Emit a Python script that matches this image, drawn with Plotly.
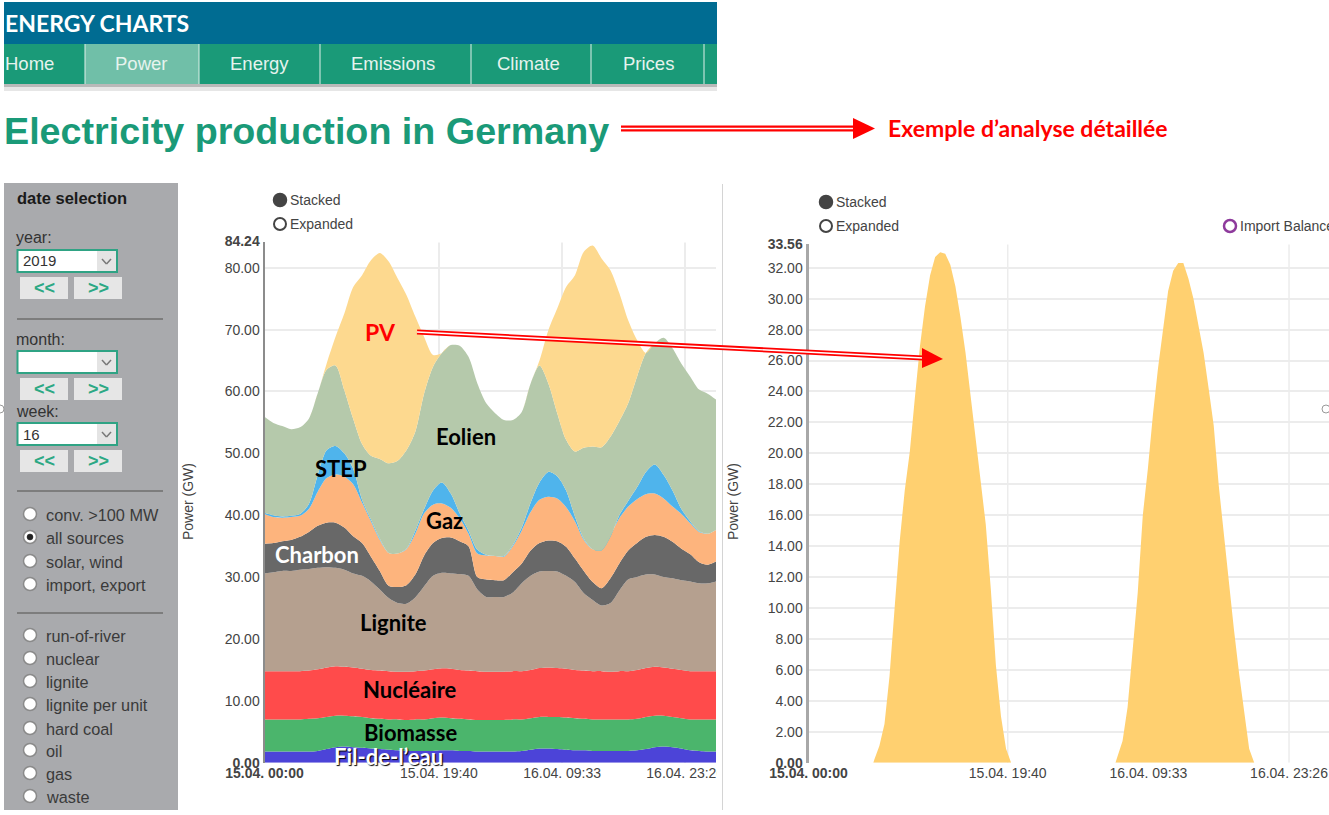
import pandas as pd
import plotly.graph_objects as go

W, H = 1329, 815

# ---------- data (GW) ----------
hours = list(range(0, 51)) + [50.9]
run_of_river_top = [1.8,1.8,1.8,1.8,1.8,1.8,1.9,2.2,2.5,2.6,2.5,2.4,2.3,2.2,2.1,2.0,1.9,1.9,1.9,1.9,2.0,2.0,1.9,1.9,1.8,1.8,1.8,1.8,1.8,1.9,2.1,2.3,2.3,2.2,2.1,2.0,2.0,1.9,1.9,1.9,1.9,1.9,2.0,2.2,2.5,2.6,2.5,2.3,2.0,1.9,1.8,1.8]
biomass_top = [7.0,7.0,7.0,7.0,7.0,7.1,7.2,7.4,7.6,7.6,7.5,7.4,7.2,7.1,7.0,7.0,6.9,7.0,7.0,7.2,7.3,7.2,7.1,7.0,6.9,6.9,6.9,6.9,7.0,7.0,7.2,7.4,7.4,7.4,7.3,7.2,7.1,7.0,7.0,7.0,7.0,7.0,7.1,7.4,7.6,7.6,7.4,7.2,7.0,7.0,7.0,7.0]
nuclear_top = [14.8,14.8,14.8,14.8,14.8,14.9,15.1,15.4,15.6,15.5,15.4,15.2,15.0,14.9,14.8,14.7,14.7,14.8,14.9,15.1,15.25,15.2,15.0,14.9,14.8,14.7,14.7,14.7,14.8,14.8,15.0,15.3,15.4,15.3,15.2,15.0,14.9,14.8,14.8,14.7,14.8,14.8,15.0,15.3,15.5,15.4,15.2,15.0,14.8,14.8,14.8,14.8]
lignite_top = [30.6,30.8,31.0,31.0,31.2,31.3,31.5,31.6,31.5,31.2,30.6,30.2,29.3,28.0,26.6,25.8,25.7,26.7,28.5,30.2,30.7,30.6,30.5,30.2,28.0,26.8,26.8,26.8,27.5,29.0,30.2,30.9,31.0,30.9,30.2,29.2,27.4,26.3,25.4,25.8,27.8,29.6,30.0,30.4,30.4,30.0,29.8,29.5,29.3,29.0,29.0,29.3]
coal_top = [35.4,35.5,35.8,36.0,36.5,37.3,38.3,38.8,38.8,38.0,36.6,35.5,33.3,31.0,28.6,28.4,28.7,30.4,33.5,35.5,36.3,36.4,35.8,35.0,30.0,29.6,29.5,29.5,30.8,32.2,34.3,35.5,35.9,35.8,34.9,33.0,31.0,29.2,28.2,29.8,32.2,34.3,35.5,36.5,36.8,36.5,35.7,34.6,33.7,32.4,32.0,32.5]
gas_top = [40.2,39.7,39.6,39.7,39.9,41.0,43.8,46.0,46.6,46.2,45.0,42.0,39.0,36.0,33.9,33.8,34.5,37.0,40.3,41.7,41.9,41.2,39.5,37.0,33.8,33.5,33.4,33.3,35.0,37.5,40.5,42.5,43.0,42.7,41.3,39.0,36.0,34.5,34.9,36.8,39.5,41.4,42.6,43.4,43.5,42.7,41.4,40.2,38.7,37.3,37.0,37.6]
pumped_top = [40.4,40.0,39.8,39.9,40.2,41.8,46.5,50.5,51.2,50.0,47.5,42.5,39.3,36.2,33.9,33.8,34.6,37.5,41.0,44.0,45.3,43.5,40.3,37.5,34.4,33.6,33.4,33.4,35.2,38.0,42.0,45.3,47.0,46.3,44.0,39.8,36.2,34.5,34.3,36.5,40.0,42.3,44.5,47.0,48.2,46.5,44.0,41.0,39.0,37.4,37.0,37.6]
wind_top = [55.9,54.9,54.4,53.9,54.2,55.6,59.7,63.5,64.2,60.2,55.6,51.5,49.6,49.1,48.4,48.8,50.5,53.5,59.7,64.0,66.2,67.5,67.4,65.6,61.3,58.1,56.5,55.4,55.4,56.7,61.3,64.2,61.3,56.5,52.2,50.3,50.9,51.1,51.0,52.7,55.2,58.1,62.4,66.2,67.8,68.7,67.0,64.5,62.4,60.3,59.6,58.7]
total_top = [55.9,54.9,54.4,53.9,54.2,55.6,59.7,64.5,68.8,72.6,76.9,78.8,81.2,82.4,81.0,78.3,75.6,72.1,68.8,65.9,66.2,67.5,67.4,65.6,61.3,58.1,56.5,55.4,55.4,56.7,61.3,65.0,69.9,73.4,76.9,78.8,82.6,83.6,81.5,79.6,75.9,71.5,68.3,66.2,67.8,68.7,67.0,64.5,62.4,60.3,59.6,58.7]

pv_hours = [0,6.4,6.5,7,7.5,8,8.5,9,9.5,10,10.5,11,11.5,12,12.5,13,13.5,14,14.5,15,15.5,16,16.5,17,17.5,18,18.5,19,19.5,20,
            30.3,30.5,31,31.5,32,32.5,33,33.5,34,34.5,35,35.5,36,36.5,37,37.5,38,38.5,39,39.5,40,40.5,41,41.5,42,42.5,43,43.5,44,51.38]
pv_power = [0,0,0.2,1.1,2.5,5.6,10,14.3,17.6,20.1,23.6,26.9,29.5,31.5,32.7,33,32.9,32.2,30.8,28.8,26.5,23.7,20.9,18.1,15.4,11.2,6.3,3.0,0.9,0,
            0,0.4,1.4,3.6,7.2,11,16.0,19,22.5,25.5,28,30.5,31.8,32.3,32.3,31.3,30,28.3,26.5,24.2,21.8,17.9,14.8,11.5,8.6,5.8,3.2,0.9,0,0]

layer_names = ["Fil-de-l’eau", "Biomasse", "Nucléaire", "Lignite", "Charbon", "Gaz", "STEP", "Eolien", "PV"]
layer_tops = [run_of_river_top, biomass_top, nuclear_top, lignite_top, coal_top, gas_top, pumped_top, wind_top, total_top]
layer_colors = ["#4c44d8", "#4bb56c", "#ff4b4b", "#b5a08f", "#686868", "#fdb47d", "#4fb4ec", "#b5c9ab", "#fdd98f"]

left_y_ticks = [0, 10, 20, 30, 40, 50, 60, 70, 80, 84.24]
right_y_ticks = [0, 2, 4, 6, 8, 10, 12, 14, 16, 18, 20, 22, 24, 26, 28, 30, 32, 33.56]
x_tick_times = ["2019-04-15 00:00", "2019-04-15 19:40", "2019-04-16 09:33", "2019-04-16 23:26"]
x_tick_labels = ["<b>15.04. 00:00</b>", "15.04. 19:40", "16.04. 09:33", "16.04. 23:26"]

nav_labels = ["Home", "Power", "Energy", "Emissions", "Climate", "Prices"]
source_options = ["conv. >100 MW", "all sources", "solar, wind", "import, export"]
fuel_options = ["run-of-river", "nuclear", "lignite", "lignite per unit", "hard coal", "oil", "gas", "waste"]

# ---------- helpers ----------
start = pd.Timestamp("2019-04-15 00:00")
def to_dates(hs):
    return [start + pd.Timedelta(hours=h) for h in hs]
def px(x): return x / W
def py(y): return 1 - y / H

shapes, notes = [], []
def rect(x0, y0, x1, y1, fill, line=None, lw=0, layer="above"):
    shapes.append(dict(type="rect", xref="paper", yref="paper", x0=px(x0), x1=px(x1), y0=py(y0), y1=py(y1),
                       fillcolor=fill, line=dict(color=line or fill, width=lw), layer=layer))
def seg(x0, y0, x1, y1, color, lw):
    shapes.append(dict(type="line", xref="paper", yref="paper", x0=px(x0), x1=px(x1), y0=py(y0), y1=py(y1),
                       line=dict(color=color, width=lw), layer="above"))
def circ(cx, cy, r, fill, line, lw=1.5):
    shapes.append(dict(type="circle", xref="paper", yref="paper", x0=px(cx-r), x1=px(cx+r), y0=py(cy+r), y1=py(cy-r),
                       fillcolor=fill, line=dict(color=line, width=lw), layer="above"))
def tri(xb, y0, y1, xt, yt, color):
    path = f"M {px(xb)} {py(y0)} L {px(xt)} {py(yt)} L {px(xb)} {py(y1)} Z"
    shapes.append(dict(type="path", xref="paper", yref="paper", path=path, fillcolor=color, line=dict(width=0), layer="above"))
def text(x, y, s, size=14, color="#444", family="Liberation Sans", anchor="left", bold=False, **kw):
    font = dict(size=size, color=color, family=family)
    font.update(kw)
    notes.append(dict(xref="paper", yref="paper", x=px(x), y=py(y), text=f"<b>{s}</b>" if bold else s, showarrow=False,
                      xanchor=anchor, yanchor="middle", font=font, borderpad=0, borderwidth=0, align=anchor))

# ---------- figure ----------
fig = go.Figure()
dates = to_dates(hours)
for i, (name, tops, color) in enumerate(zip(layer_names, layer_tops, layer_colors)):
    fig.add_trace(go.Scatter(x=dates, y=tops, name=name, mode="lines",
                             line=dict(width=0, color=color, shape="spline", smoothing=0.8),
                             fill="tozeroy" if i == 0 else "tonexty", fillcolor=color, hoverinfo="skip",
                             showlegend=False, xaxis="x", yaxis="y"))
fig.add_trace(go.Scatter(x=to_dates(pv_hours), y=pv_power, name="PV", mode="lines",
                         line=dict(width=0, color="#ffd070"),
                         fill="tozeroy", fillcolor="#ffd070", hoverinfo="skip", showlegend=False, xaxis="x2", yaxis="y2"))

grid = "#ececec"
tick_font = dict(family="Liberation Sans", size=14, color="#444")
def y_labels(vals):
    first, last = vals[0], vals[-1]
    return [f"<b>{v:.2f}</b>" if v in (first, last) else f"{v:.2f}" for v in vals]

# vertical gridlines of the right chart (09:33 has none in the reference)
for t in (x_tick_times[1], x_tick_times[3]):
    shapes.append(dict(type="line", xref="x2", yref="y2", x0=t, x1=t, y0=0, y1=33.56, line=dict(color=grid, width=1.5), layer="below"))

# ---------- page chrome ----------
rect(4, 2, 717, 44, "#006c92")
rect(4, 44, 717, 84, "#1a9a78")
rect(85, 44, 199, 84, "#70bfa8")
rect(4, 84, 717, 87, "#b9b9b9")
rect(4, 87, 717, 91, "#e6e6e6")
for x in (85, 199, 320, 471, 591, 704):
    seg(x, 44, x, 84, "#dff0ea", 1)
text(5, 23, "ENERGY CHARTS", size=23, color="#ffffff", family="Lato", bold=True)
for label, cx in zip(nav_labels, (29, 141, 259, 393, 528, 648)):
    text(cx, 64, label, size=18.5, color="#e6f3ee", anchor="center")
text(4, 131, "Electricity production in Germany", size=37.7, color="#1a9a78", bold=True)

seg(621, 128.5, 855, 128.5, "#ff0000", 6)
seg(621, 128.5, 855, 128.5, "#ffffff", 1.5)
tri(853, 118, 139, 875, 128.5, "#ff0000")
text(888, 128, "Exemple d’analyse détaillée", size=23, color="#ff0000", family="Lato", bold=True)

# sidebar
rect(4, 183, 178, 810, "#a9aaad")
text(17, 198, "date selection", size=16.5, color="#1a1a1a", bold=True)
sel = [("year:", 238, 261, "2019"), ("month:", 339, 362, ""), ("week:", 411, 434, "16")]
for lab, ly, by, val in sel:
    text(16, ly, lab, size=16, color="#333")
    rect(17.5, by-11, 117, by+11, "#ffffff", "#2fa384", 2)
    rect(97, by-10, 116, by+10, "#e4e4e4")
    seg(102, by-2, 106.5, by+3, "#777", 1.5)
    seg(106.5, by+3, 111, by-2, "#777", 1.5)
    if val:
        text(23, by, val, size=15, color="#333", family="Liberation Sans")
    for x0, arrow_text in ((20, "&lt;&lt;"), (74, "&gt;&gt;")):
        rect(x0, by+16, x0+48, by+38, "#e6e6e6")
        text(x0+24, by+27, arrow_text, size=18, color="#2ca884", anchor="center", bold=True)
for y in (319, 491, 613):
    seg(17, y, 163, y, "#7d7d7d", 2)
for i, (label, y) in enumerate(zip(source_options, (514, 537, 561, 584))):
    circ(30, y, 6.5, "#ffffff", "#8a8a8a")
    if i == 1:
        circ(30, y, 3, "#222222", "#222222", 0.5)
    text(46, y+1, label, size=16.3, color="#3a3a3a")
for label, y in zip(fuel_options, (635, 658, 681, 704, 728, 750, 773, 796)):
    circ(30, y, 6.5, "#ffffff", "#8a8a8a")
    text(46, y+1, label, size=16.3, color="#3a3a3a")

# stacked / expanded selectors
for cx, tx, y0 in ((280, 290, 200), (826, 836, 202)):
    circ(cx, y0, 6.5, "#444444", "#444444")
    circ(cx, y0+24, 6, "#ffffff", "#444444", 2)
    text(tx, y0, "Stacked", size=14)
    text(tx, y0+24, "Expanded", size=14)
circ(1230, 226, 6, "#ffffff", "#8e3b9c", 2.5)
text(1240, 226, "Import Balance", size=14)

# cover the clipped tick label and separate the two panels
rect(717, 765, 730, 790, "#ffffff")
seg(722.5, 184, 722.5, 810, "#d4d4d4", 1)
circ(1326, 409, 4, "#ffffff", "#999999", 1)
circ(0, 409, 4, "#ffffff", "#999999", 1)
# no gridline at the very top of each axis
rect(265.5, 240.6, 716, 242.4, "#ffffff")
rect(810, 242.7, 1329, 244.5, "#ffffff")

# chart labels
label_font = "Lato"
text(380, 332, "PV", size=23, color="#ff0000", family=label_font, anchor="center", bold=True)
text(466, 436, "Eolien", size=22, color="#000", family=label_font, anchor="center", bold=True)
text(341, 468, "STEP", size=22, color="#000", family=label_font, anchor="center", bold=True)
text(444, 520, "Gaz", size=22, color="#000", family=label_font, anchor="center", bold=True)
text(317, 554, "Charbon", size=22, color="#fff", family=label_font, anchor="center", bold=True)
text(393, 622, "Lignite", size=22, color="#000", family=label_font, anchor="center", bold=True)
text(410, 689, "Nucléaire", size=22, color="#000", family=label_font, anchor="center", bold=True)
text(410, 732, "Biomasse", size=22, color="#000", family=label_font, anchor="center", bold=True)
text(389, 756, "Fil-de-l’eau", size=22, color="#fff", family=label_font, anchor="center", bold=True,
     shadow="1px 1px 1px #000")

# PV arrow
seg(417, 332, 923, 358, "#ff0000", 5)
seg(417, 332, 923, 358, "#ffffff", 1.4)
tri(922, 348, 368, 943, 359, "#ff0000")

# axis titles
for x in (188, 733):
    notes.append(dict(xref="paper", yref="paper", x=px(x), y=py(502), text="Power (GW)", showarrow=False, textangle=-90,
                      xanchor="center", yanchor="middle", font=dict(family="Liberation Sans", size=14, color="#444")))

fig.update_layout(
    width=W, height=H, margin=dict(l=0, r=0, t=0, b=0, autoexpand=False), paper_bgcolor="#ffffff", plot_bgcolor="#ffffff",
    showlegend=False, shapes=shapes, annotations=notes, hovermode=False,
    xaxis=dict(domain=[px(264.5), px(716)], type="date", anchor="y",
               range=[start, start + pd.Timedelta(hours=50.9)], tickvals=x_tick_times, ticktext=x_tick_labels,
               showgrid=True, gridcolor=grid, gridwidth=1.5, showline=False, ticks="", tickfont=tick_font, tickangle=0),
    yaxis=dict(domain=[py(762.7), py(241.5)], range=[0, 84.24], anchor="x", tickvals=left_y_ticks,
               ticktext=y_labels(left_y_ticks), showgrid=True, gridcolor=grid, gridwidth=1.5, zeroline=False,
               showline=True, linecolor="#8c8c8c", linewidth=2, ticks="", tickfont=tick_font),
    xaxis2=dict(domain=[px(808.5), 1], type="date", anchor="y2",
                range=[start, start + pd.Timedelta(hours=51.38)], tickvals=x_tick_times, ticktext=x_tick_labels,
                showgrid=False, showline=False, ticks="", tickfont=tick_font, tickangle=0),
    yaxis2=dict(domain=[py(762.7), py(243.6)], range=[0, 33.56], anchor="x2", tickvals=right_y_ticks,
                ticktext=y_labels(right_y_ticks), showgrid=True, gridcolor=grid, gridwidth=1.5, zeroline=False,
                showline=True, linecolor="#a8a8a8", linewidth=3, ticks="", tickfont=tick_font),
)

fig.write_html("out.html", config=dict(displayModeBar=False),
               post_script="document.body.style.margin='0';document.body.style.overflow='hidden';")
